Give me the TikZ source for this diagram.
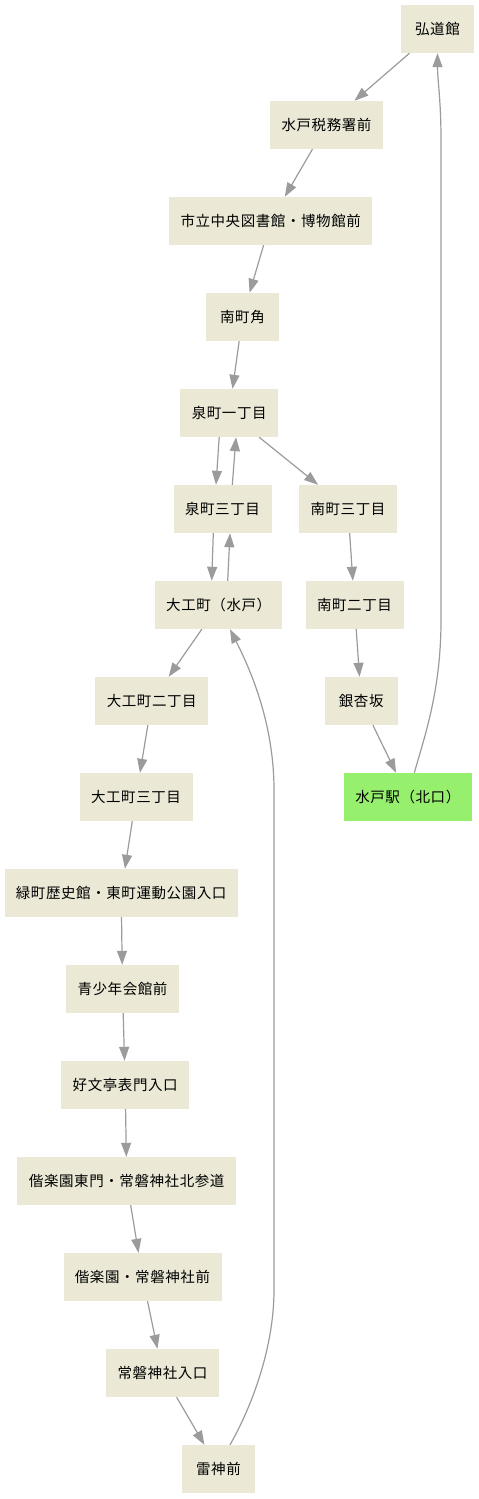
\documentclass[tikz,border=0pt]{standalone}
\usepackage{fontspec}
\newfontfamily\jp[LetterSpace=4]{Noto Sans CJK JP}
\usetikzlibrary{arrows.meta}
\definecolor{boxfill}{RGB}{235,233,214}
\definecolor{stationfill}{RGB}{150,240,110}
\definecolor{edgecol}{RGB}{155,155,155}
\begin{document}
\begin{tikzpicture}[x=1pt,y=-1pt,
  stop/.style={fill=boxfill, draw=none, minimum height=48pt, inner sep=0pt,
    font=\jp\fontsize{14.5}{16}\selectfont, text=black},
  station/.style={stop, fill=stationfill},
  conn/.style={draw=edgecol, line width=1.2pt, -{Triangle[length=14pt,width=10pt]}}]
\useasboundingbox (0,0) rectangle (479,1499);
\node[stop, minimum width=73pt]    (kodokan)    at (437.5,29)   {弘道館};
\node[stop, minimum width=113pt]   (zeimu)      at (326.5,125)  {水戸税務署前};
\node[stop, minimum width=203pt]   (toshokan)   at (270.7,221)  {市立中央図書館・博物館前};
\node[stop, minimum width=73pt]    (minamikado) at (242.5,317)  {南町角};
\node[stop, minimum width=98pt]    (izumi1)     at (229.2,413)  {泉町一丁目};
\node[stop, minimum width=98pt]    (izumi3)     at (222.5,509)  {泉町三丁目};
\node[stop, minimum width=98pt]    (minami3)    at (348,509)    {南町三丁目};
\node[stop, minimum width=127pt]   (daiku)      at (218.7,605)  {大工町（水戸）};
\node[stop, minimum width=98pt]    (minami2)    at (354.5,605)  {南町二丁目};
\node[stop, minimum width=113pt]   (daiku2)     at (151.8,701)  {大工町二丁目};
\node[stop, minimum width=73pt]    (icho)       at (361.2,701)  {銀杏坂};
\node[stop, minimum width=113pt]   (daiku3)     at (136,797)    {大工町三丁目};
\node[station, minimum width=128pt](mitoeki)    at (407.8,797)  {水戸駅（北口）};
\node[stop, minimum width=233pt]   (midori)     at (121.2,893)  {緑町歴史館・東町運動公園入口};
\node[stop, minimum width=113pt]   (seishonen)  at (122.5,989)  {青少年会館前};
\node[stop, minimum width=128pt]   (kobuntei)   at (125.2,1085) {好文亭表門入口};
\node[stop, minimum width=219pt]   (higashimon) at (126.7,1181) {偕楽園東門・常磐神社北参道};
\node[stop, minimum width=158pt]   (kairakuen)  at (142.5,1277) {偕楽園・常磐神社前};
\node[stop, minimum width=113pt]   (jinja)      at (162.5,1373) {常磐神社入口};
\node[stop, minimum width=73pt]    (raijin)     at (218.5,1469) {雷神前};

\draw[conn] (kodokan) -- (zeimu);
\draw[conn] (zeimu) -- (toshokan);
\draw[conn] (toshokan) -- (minamikado);
\draw[conn] (minamikado) -- (izumi1);
\draw[conn] ([xshift=-10pt]izumi1.south) -- ([xshift=-6.5pt]izumi3.north);
\draw[conn] ([xshift=9.8pt]izumi3.north) -- ([xshift=6.8pt]izumi1.south);
\draw[conn] (izumi1) -- (minami3);
\draw[conn] ([xshift=-9.2pt]izumi3.south) -- ([xshift=-7pt]daiku.north);
\draw[conn] ([xshift=9pt]daiku.north) -- ([xshift=7.5pt]izumi3.south);
\draw[conn] (minami3) -- (minami2);
\draw[conn] (minami2) -- (icho);
\draw[conn] (icho) -- (mitoeki);
\draw[conn] (daiku) -- (daiku2);
\draw[conn] (daiku2) -- (daiku3);
\draw[conn] (daiku3) -- (midori);
\draw[conn] (midori) -- (seishonen);
\draw[conn] (seishonen) -- (kobuntei);
\draw[conn] (kobuntei) -- (higashimon);
\draw[conn] (higashimon) -- (kairakuen);
\draw[conn] (kairakuen) -- (jinja);
\draw[conn] (jinja) -- (raijin);
\draw[conn] ([xshift=6.5pt]mitoeki.north) .. controls (425,735) and (441,690) .. (441,620)
  -- (441,140) .. controls (441,100) and (437.5,80) .. (kodokan.south);
\draw[conn] ([xshift=11.5pt]raijin.north) .. controls (250,1410) and (274,1350) .. (274,1290)
  -- (274,790) .. controls (274,720) and (248,665) .. ([xshift=11.3pt]daiku.south);
\end{tikzpicture}
\end{document}
